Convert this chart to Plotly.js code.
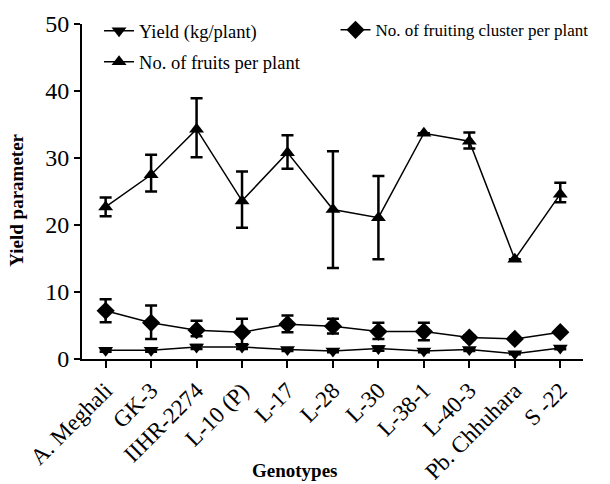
<!DOCTYPE html>
<html><head><meta charset="utf-8">
<script src="https://cdn.plot.ly/plotly-3.0.1.min.js"></script>
<style>body{margin:0;background:#fff}#c{width:610px;height:484px}</style>
</head><body><div id="c"></div>
<script>
const genotypes = ["A. Meghali","GK-3","IIHR-2274","L-10 (P)","L-17","L-28","L-30","L-38-1","L-40-3","Pb. Chhuhara","S -22"];
const yieldVals = [1.3,1.3,1.8,1.8,1.4,1.2,1.55,1.2,1.4,0.8,1.65];
const yieldErr = [0.2,0.2,0.3,0.3,0.2,0.2,0.3,0.2,0.2,0.1,0.2];
const fruitsVals = [22.7,27.5,34.3,23.6,30.8,22.3,21.1,33.7,32.5,14.9,24.6];
const fruitsErrPlus = [1.4,3.0,4.6,4.4,2.6,8.7,6.2,0,1.3,0,1.7];
const fruitsErrMinus = [1.4,2.5,4.2,4.0,2.4,8.7,6.2,0,1.1,0,1.2];
const clusterVals = [7.2,5.4,4.3,4.0,5.2,4.9,4.1,4.1,3.2,3.0,4.0];
const clusterErrPlus = [1.7,2.6,1.4,2.0,1.3,1.1,1.3,1.3,0.3,0,0.2];
const clusterErrMinus = [1.7,2.4,0.9,1.8,1.2,1.1,1.1,1.3,0.3,0,0.2];

const font = "Liberation Serif";
const eb = (p, m) => ({type:'data', symmetric:false, array:p, arrayminus:m, color:'#000', thickness:2.5, width:6});

const traces = [
  {x:genotypes, y:yieldVals, name:'Yield (kg/plant)', mode:'lines+markers', type:'scatter',
   line:{color:'#000', width:1.5}, marker:{symbol:'triangle-down', size:13, color:'#000'},
   error_y:{type:'data', array:yieldErr, color:'#000', thickness:2.5, width:6},
   legend:'legend', legendgroup:'a'},
  {x:genotypes, y:fruitsVals, name:'No. of fruits per plant', mode:'lines+markers', type:'scatter',
   line:{color:'#000', width:1.5}, marker:{symbol:'triangle-up', size:13, color:'#000'},
   error_y:eb(fruitsErrPlus, fruitsErrMinus), legend:'legend', legendgroup:'b'},
  {x:genotypes, y:clusterVals, name:'No. of fruiting cluster per plant', mode:'lines+markers', type:'scatter',
   line:{color:'#000', width:1.5}, marker:{symbol:'diamond', size:14, color:'#000'},
   error_y:eb(clusterErrPlus, clusterErrMinus), legend:'legend2'}
];

const layout = {
  width:610, height:484,
  margin:{l:82, r:27, t:24, b:125},
  paper_bgcolor:'#fff', plot_bgcolor:'#fff',
  font:{family:font, color:'#000'},
  showlegend:true,
  legend:{x:0.034, y:1.035, xanchor:'left', yanchor:'top', bgcolor:'rgba(0,0,0,0)',
    font:{family:font, size:18.5, color:'#000'}, tracegroupgap:4, traceorder:'grouped'},
  legend2:{x:0.506, y:1.035, xanchor:'left', yanchor:'top', bgcolor:'rgba(0,0,0,0)',
    font:{family:font, size:17, color:'#000'}},
  xaxis:{type:'category', range:[-0.52, 10.5], showline:true, linecolor:'#000', linewidth:2,
    ticks:'outside', ticklen:7, tickwidth:2, tickcolor:'#000', showgrid:false, zeroline:false,
    tickangle:-45, automargin:false, tickfont:{family:font, size:23, color:'#000'}},
  yaxis:{range:[0,50], showline:true, linecolor:'#000', linewidth:2, ticks:'outside', ticklen:6,
    tickwidth:2, tickcolor:'#000', showgrid:false, zeroline:false, tickvals:[0,10,20,30,40,50],
    automargin:false, tickfont:{family:font, size:24, color:'#000'}},
  annotations:[
    {text:'<b>Genotypes</b>', xref:'paper', yref:'paper', x:0.426, y:-0.333,
     xanchor:'center', yanchor:'middle', showarrow:false, font:{family:font, size:19, color:'#000'}},
    {text:'<b>Yield parameter</b>', xref:'paper', yref:'paper', x:-0.13, y:0.475, textangle:-90,
     xanchor:'center', yanchor:'middle', showarrow:false, font:{family:font, size:19, color:'#000'}}
  ]
};
Plotly.newPlot('c', traces, layout, {displayModeBar:false});
</script></body></html>
